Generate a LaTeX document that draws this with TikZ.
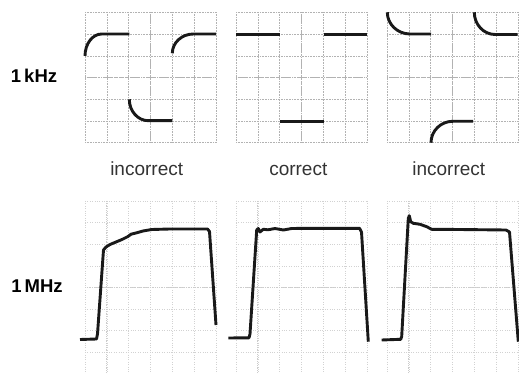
\documentclass[tikz,border=0pt]{standalone}
\usepackage{fontspec}
\setmainfont{Liberation Sans}
\tikzset{
  gridline/.style={gray!60, line width=0.5pt, dash pattern=on 0.6pt off 1pt},
  faintgrid/.style={gray!35, line width=0.5pt, dash pattern=on 0.6pt off 1.8pt},
  axisline/.style={gray!60, line width=1.3pt, dash pattern=on 0.7pt off 1.1pt},
  trace/.style={black!90, line width=2.9pt, line join=round},
  caption/.style={font=\fontsize{19}{22}\selectfont, text=black!80},
  freq/.style={font=\fontsize{18.5}{22}\selectfont\bfseries}
}
\begin{document}
\begin{tikzpicture}[x=1pt, y=-1pt]
\useasboundingbox (0,0) rectangle (519,374);
% scope screens, 1 kHz
\foreach \gx in {85,236,387}{
  \foreach \i in {0,...,6}
    \draw[gridline] (\gx+\i*21.8,12.3) -- (\gx+\i*21.8,142.7);
  \foreach \j in {0,...,6}
    \draw[gridline] (\gx,12.3+\j*21.73) -- (\gx+130.8,12.3+\j*21.73);
  \draw[axisline] (\gx+65.4,12.3) -- (\gx+65.4,142.7);
  \draw[axisline] (\gx,77.5) -- (\gx+130.8,77.5);
}
% scope screens, 1 MHz
\foreach \gx in {85,236,387}{
  \foreach \i in {0,...,6}
    \draw[faintgrid] (\gx+\i*21.8,201) -- (\gx+\i*21.8,374);
  \foreach \j in {0,...,8}
    \draw[faintgrid] (\gx,201+\j*21.6) -- (\gx+130.8,201+\j*21.6);
  \draw[axisline, gray!40] (\gx+21.8,201) -- (\gx+21.8,374);
  \draw[axisline, gray!40] (\gx,287.4) -- (\gx+130.8,287.4);
}

% 1 kHz traces
\draw[trace] (85,56) .. controls (85,43.9) and (92.4,34) .. (101.7,34) -- (129.3,34);
\draw[trace] (172.3,53.3) .. controls (172.3,42.7) and (181.8,34) .. (193.3,34) -- (216,34);
\draw[trace] (129.3,99.3) .. controls (129.3,111.1) and (137.8,120.7) .. (148.3,120.7) -- (172.3,120.7);
\draw[trace] (236,34.2) -- (280,34.2);
\draw[trace] (324,34.7) -- (366.7,34.7);
\draw[trace] (280,121.3) -- (324,121.3);
\draw[trace] (387.3,12.3) .. controls (387.3,24.2) and (397.5,34) .. (410,34) -- (431,34);
\draw[trace] (474.3,12.3) .. controls (474.3,24.5) and (483.6,34.5) .. (495,34.5) -- (517.7,34.5);
\draw[trace] (431,142.7) .. controls (431,130.9) and (440.8,121.3) .. (452.7,121.3) -- (473,121.3);

% 1 MHz traces
\draw[trace] (80,339.5) -- (96.5,339) -- (97.5,334) -- (103.5,250) -- (106,247)
  -- (110,244.5) -- (116,242) -- (122,239.5) -- (128,236.5) -- (131,234.2)
  -- (136,233) -- (143,231) -- (151.7,229.5) -- (170,229) -- (207.5,229)
  -- (209.5,231.5) -- (216,325);
\draw[trace] (228.3,338) -- (249,337.8) -- (250,334) -- (256.7,230) -- (258.3,228.5)
  -- (260,232) -- (263.3,229.3) -- (268,229.8) -- (275,228.5) -- (283.3,230)
  -- (291.7,228.5) -- (310,228.3) -- (359.5,228.3) -- (361.5,232) -- (368.3,341.7);
\draw[trace] (381.7,340) -- (400.7,339.3) -- (401.7,336.5) -- (408.3,218.3) -- (409.3,215.7)
  -- (410.7,221.7) -- (413.3,223.3) -- (420,224.3) -- (426.7,226.7) -- (431.7,229.3)
  -- (440,229.3) -- (506,230) -- (509.5,232) -- (518.3,341.7);

% labels
\node[freq, anchor=base] (khz) at (34,82.3) {1\,kHz};
\node[freq, anchor=base] (mhz) at (37,292.3) {1\,MHz};
\node[caption, anchor=base] (bad1) at (146.7,176) {incorrect};
\node[caption, anchor=base] (good) at (298.3,176) {correct};
\node[caption, anchor=base] (bad2) at (448.8,176) {incorrect};
\end{tikzpicture}
\end{document}
